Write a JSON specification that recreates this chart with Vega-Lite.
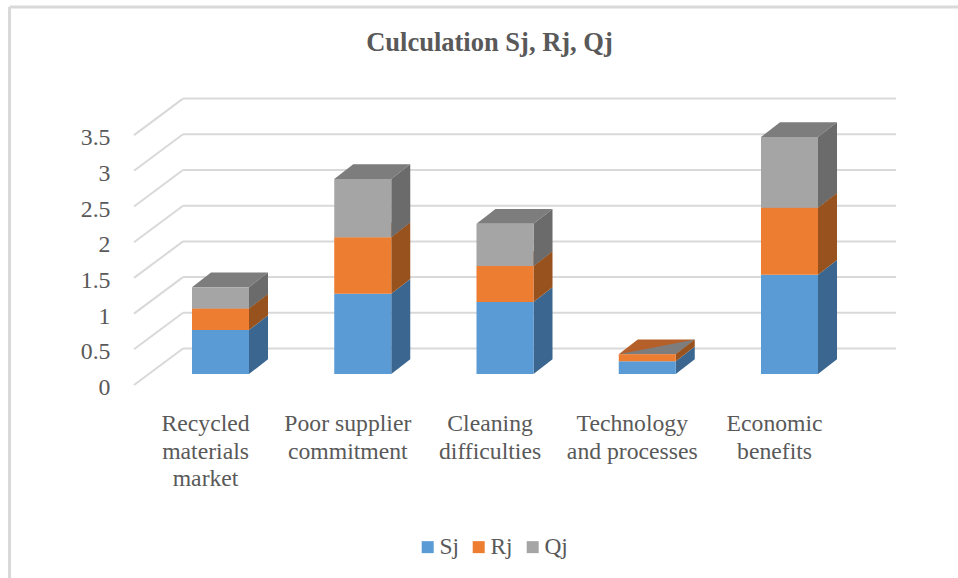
{
  "$schema": "https://vega.github.io/schema/vega-lite/v6.json",
  "width": 825,
  "height": 508,
  "padding": {"left": 133, "top": 70, "right": 0, "bottom": 0},
  "autosize": {"type": "none"},
  "background": "white",
  "title": {"text": "Culculation Sj, Rj, Qj", "font": "Liberation Serif", "fontSize": 26.5, "fontWeight": "bold", "color": "#595959", "anchor": "middle", "dx": -56, "offset": -51},
  "config": {"view": {"stroke": null}},
  "datasets": {
    "rows": [
      {"category": "Recycled\nmaterials\nmarket", "series": "Sj", "value": 0.616},
      {"category": "Recycled\nmaterials\nmarket", "series": "Rj", "value": 0.30},
      {"category": "Recycled\nmaterials\nmarket", "series": "Qj", "value": 0.30},
      {"category": "Poor supplier\ncommitment", "series": "Sj", "value": 1.125},
      {"category": "Poor supplier\ncommitment", "series": "Rj", "value": 0.79},
      {"category": "Poor supplier\ncommitment", "series": "Qj", "value": 0.817},
      {"category": "Cleaning\ndifficulties", "series": "Sj", "value": 1.008},
      {"category": "Cleaning\ndifficulties", "series": "Rj", "value": 0.504},
      {"category": "Cleaning\ndifficulties", "series": "Qj", "value": 0.592},
      {"category": "Technology\nand processes", "series": "Sj", "value": 0.178},
      {"category": "Technology\nand processes", "series": "Rj", "value": 0.098},
      {"category": "Technology\nand processes", "series": "Qj", "value": 0},
      {"category": "Economic\nbenefits", "series": "Sj", "value": 1.39},
      {"category": "Economic\nbenefits", "series": "Rj", "value": 0.94},
      {"category": "Economic\nbenefits", "series": "Qj", "value": 0.99}
    ],
    "ticks": [{"v": 0}, {"v": 0.5}, {"v": 1}, {"v": 1.5}, {"v": 2}, {"v": 2.5}, {"v": 3}, {"v": 3.5}]
  },
  "layer": [
    {
      "data": {"values": [{"edge": "frame"}]},
      "mark": {"type": "rule", "color": "#d9d9d9", "strokeWidth": 3},
      "encoding": {
        "x": {"datum": -1.483, "type": "quantitative", "scale": {"domain": [-0.6151, 5.1845], "nice": false, "zero": false}, "axis": null},
        "y": {"datum": 5.14, "type": "quantitative", "scale": {"domain": [-2.857, 4.2577], "nice": false, "zero": false}, "axis": {"values": [0, 0.5, 1, 1.5, 2, 2.5, 3, 3.5], "format": "~g", "domain": false, "ticks": false, "grid": false, "title": null, "labelFont": "Liberation Serif", "labelFontSize": 23.8, "labelColor": "#595959", "labelOffset": 13.5, "labelPadding": 23, "labelOverlap": false, "labelBound": false, "labelFlush": false}},
        "y2": {"datum": -2.857}
      }
    },
    {
      "data": {"values": [{"edge": "frame"}]},
      "mark": {"type": "rule", "color": "#d9d9d9", "strokeWidth": 3},
      "encoding": {
        "x": {"datum": -1.483, "type": "quantitative"},
        "x2": {"datum": 5.1845},
        "y": {"datum": 5.14, "type": "quantitative"}
      }
    },
    {
      "data": {"name": "ticks"},
      "transform": [{"calculate": "datum.v - 0.154", "as": "front"}, {"calculate": "datum.v + 0.357", "as": "back"}],
      "mark": {"type": "rule", "color": "#d9d9d9", "strokeWidth": 2},
      "encoding": {
        "x": {"datum": -0.608, "type": "quantitative"},
        "x2": {"datum": -0.2636},
        "y": {"field": "front", "type": "quantitative"},
        "y2": {"field": "back"}
      }
    },
    {
      "data": {"name": "ticks"},
      "transform": [{"calculate": "datum.v + 0.357", "as": "back"}],
      "mark": {"type": "rule", "color": "#d9d9d9", "strokeWidth": 2},
      "encoding": {
        "x": {"datum": -0.2636, "type": "quantitative"},
        "x2": {"datum": 4.7487},
        "y": {"field": "back", "type": "quantitative"}
      }
    },
    {
      "data": {"name": "rows"},
      "transform": [
        {"calculate": "indexof(['Sj','Rj','Qj'], datum.series)", "as": "ord"},
        {"stack": "value", "groupby": ["category"], "sort": [{"field": "ord"}], "as": ["y0", "y1"]},
        {"calculate": "indexof(['Recycled\\nmaterials\\nmarket','Poor supplier\\ncommitment','Cleaning\\ndifficulties','Technology\\nand processes','Economic\\nbenefits'], datum.category)", "as": "i"},
        {"filter": "datum.series != 'Sj'"},
        {"calculate": "datum.value == 0 ? [datum.i-0.2004, datum.i+0.2004, datum.i+0.334] : [datum.i-0.2004, datum.i-0.0668, datum.i+0.2004, datum.i+0.334]", "as": "xs"},
        {"calculate": "datum.value == 0 ? [datum.y1, datum.y1, datum.y1+0.206] : [datum.y1, datum.y1, datum.y1, datum.y1+0.206]", "as": "lo"},
        {"calculate": "datum.value == 0 ? [datum.y1, datum.y1+0.1545, datum.y1+0.206] : [datum.y1, datum.y1+0.206, datum.y1+0.206, datum.y1+0.206]", "as": "hi"},
        {"flatten": ["xs", "lo", "hi"]}
      ],
      "mark": {"type": "area", "line": false, "opacity": 1},
      "encoding": {
        "x": {"field": "xs", "type": "quantitative"},
        "y": {"field": "lo", "type": "quantitative", "stack": null},
        "y2": {"field": "hi"},
        "detail": {"field": "category"},
        "color": {"field": "series", "type": "nominal", "scale": {"domain": ["Rj", "Qj"], "range": ["#b5602a", "#7d7d7d"]}, "legend": null}
      }
    },
    {
      "data": {"name": "rows"},
      "transform": [
        {"calculate": "indexof(['Sj','Rj','Qj'], datum.series)", "as": "ord"},
        {"stack": "value", "groupby": ["category"], "sort": [{"field": "ord"}], "as": ["y0", "y1"]},
        {"calculate": "indexof(['Recycled\\nmaterials\\nmarket','Poor supplier\\ncommitment','Cleaning\\ndifficulties','Technology\\nand processes','Economic\\nbenefits'], datum.category)", "as": "i"},
        {"calculate": "[datum.i+0.2004, datum.i+0.334]", "as": "xs"},
        {"calculate": "[datum.y0, datum.y0+0.206]", "as": "lo"},
        {"calculate": "[datum.y1, datum.y1+0.206]", "as": "hi"},
        {"flatten": ["xs", "lo", "hi"]}
      ],
      "mark": {"type": "area", "line": false, "opacity": 1},
      "encoding": {
        "x": {"field": "xs", "type": "quantitative"},
        "y": {"field": "lo", "type": "quantitative", "stack": null},
        "y2": {"field": "hi"},
        "detail": {"field": "category"},
        "color": {"field": "series", "type": "nominal", "scale": {"domain": ["Sj", "Rj", "Qj"], "range": ["#3b668f", "#98521e", "#6b6b6b"]}, "legend": null}
      }
    },
    {
      "data": {"name": "rows"},
      "transform": [
        {"calculate": "indexof(['Sj','Rj','Qj'], datum.series)", "as": "ord"},
        {"stack": "value", "groupby": ["category"], "sort": [{"field": "ord"}], "as": ["y0", "y1"]},
        {"calculate": "indexof(['Recycled\\nmaterials\\nmarket','Poor supplier\\ncommitment','Cleaning\\ndifficulties','Technology\\nand processes','Economic\\nbenefits'], datum.category)", "as": "i"},
        {"calculate": "datum.i-0.2004", "as": "xl"},
        {"calculate": "datum.i+0.2004", "as": "xr"}
      ],
      "mark": {"type": "rect"},
      "encoding": {
        "x": {"field": "xl", "type": "quantitative"},
        "x2": {"field": "xr"},
        "y": {"field": "y0", "type": "quantitative"},
        "y2": {"field": "y1"},
        "color": {"field": "series", "type": "nominal", "scale": {"domain": ["Sj", "Rj", "Qj"], "range": ["#5b9bd5", "#ed7d31", "#a5a5a5"]},
          "legend": {"orient": "none", "legendX": 283, "legendY": 465, "direction": "horizontal", "title": null, "symbolType": "square", "symbolSize": 144, "symbolStrokeWidth": 0, "symbolOpacity": 1, "labelFont": "Liberation Serif", "labelFontSize": 23.4, "labelColor": "#595959", "labelOffset": 0, "columnPadding": 8, "padding": 0}}
      }
    },
    {
      "data": {"name": "rows"},
      "transform": [
        {"filter": "datum.series == 'Sj'"},
        {"calculate": "indexof(['Recycled\\nmaterials\\nmarket','Poor supplier\\ncommitment','Cleaning\\ndifficulties','Technology\\nand processes','Economic\\nbenefits'], datum.category) - 0.105", "as": "lx"}
      ],
      "mark": {"type": "text", "font": "Liberation Serif", "fontSize": 23.7, "color": "#595959", "align": "center", "baseline": "alphabetic", "lineBreak": "\n", "lineHeight": 27.7},
      "encoding": {
        "x": {"field": "lx", "type": "quantitative"},
        "y": {"datum": -0.798, "type": "quantitative"},
        "text": {"field": "category", "type": "nominal"}
      }
    }
  ],
  "resolve": {"scale": {"color": "independent"}}
}
